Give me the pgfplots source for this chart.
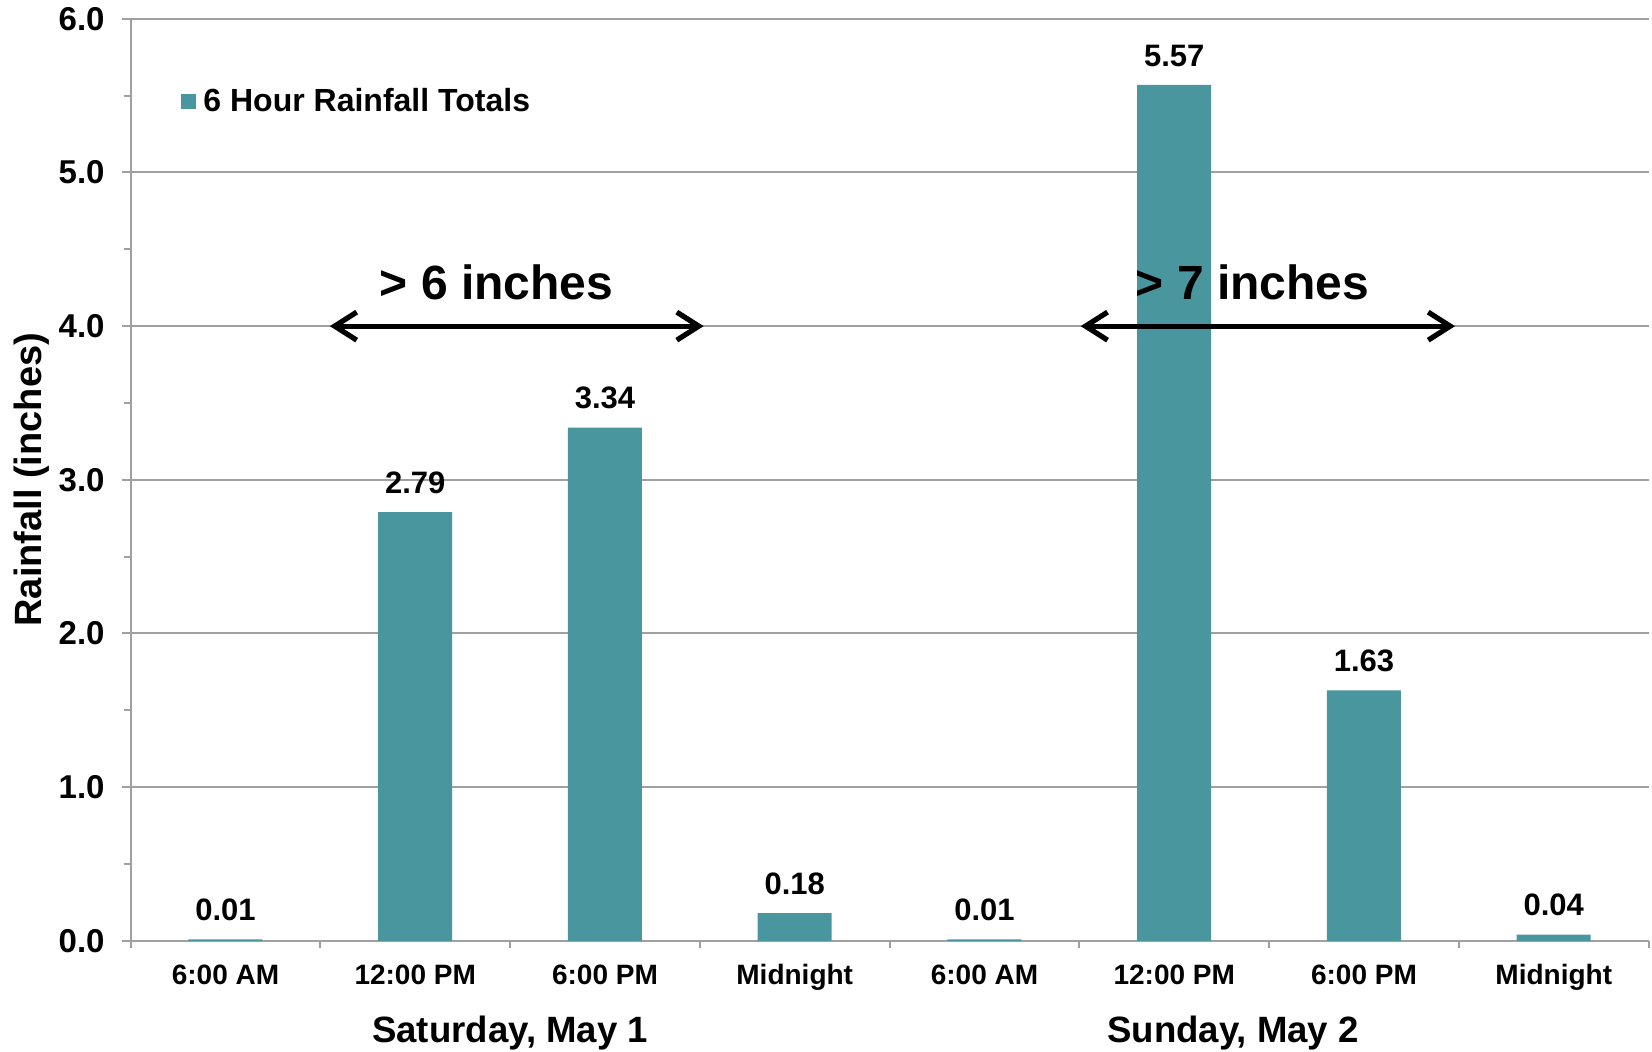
\documentclass[border=0pt]{standalone}
\usepackage{fontspec}
\setmainfont{Liberation Sans}
\usepackage{pgfplots}
\pgfplotsset{compat=1.18}
\usetikzlibrary{arrows.meta}
\definecolor{barcol}{HTML}{4A969E}
\definecolor{gridc}{HTML}{A0A0A0}
\begin{document}
\begin{tikzpicture}
\begin{axis}[
  at={(65.3pt,55.1pt)}, anchor=south west,
  scale only axis, width=759pt, height=461pt,
  xmin=0, xmax=8, ymin=0, ymax=6,
  clip=false,
  axis x line*=bottom, axis y line*=left,
  axis line style={-, draw=gridc, line width=1pt},
  ymajorgrids, grid style={draw=gridc, line width=1pt},
  ytick={0,1,...,6}, minor ytick={0.5,1.5,...,5.5},
  tick align=outside, major tick length=4.5pt, minor tick length=3.5pt,
  tick style={draw=gridc, line width=1pt},
  /pgf/number format/assume math mode=true,
  yticklabel style={font=\fontsize{16.5}{19}\selectfont\bfseries, xshift=-5pt,
    /pgf/number format/fixed, /pgf/number format/fixed zerofill,
    /pgf/number format/precision=1},
  xtick={0.5,1.5,2.5,3.5,4.5,5.5,6.5,7.5},
  xticklabels={6:00 AM,12:00 PM,6:00 PM,Midnight,6:00 AM,12:00 PM,6:00 PM,Midnight},
  major x tick style={draw=none},
  minor xtick={0,1,...,8},
  xticklabel style={font=\fontsize{14}{16}\selectfont\bfseries, anchor=base, yshift=-17.4pt},
  ylabel={Rainfall (inches)},
  ylabel style={font=\fontsize{19}{22}\selectfont\bfseries, at={(axis description cs:-0.0652,0.5)}, anchor=center},
  ybar, bar width=0.39,
  legend style={at={([yshift=-1.5pt]axis cs:0.266,5.48)}, anchor=west, draw=none, fill=none,
    font=\fontsize{16}{19}\selectfont\bfseries, inner sep=0pt},
]
\addplot[fill=barcol, draw=none,
  legend image code/.code={\fill[barcol] (0pt,-3.75pt) rectangle (7.5pt,3.75pt);},
  nodes near coords={\pgfmathprintnumber[fixed,fixed zerofill,precision=2]{\pgfplotspointmeta}},
  nodes near coords style={font=\fontsize{15.5}{18}\selectfont\bfseries, anchor=south, inner sep=0pt, yshift=9pt, black}]
  coordinates {(0.5,0.01) (1.5,2.79) (2.5,3.34) (3.5,0.18) (4.5,0.01) (5.5,5.57) (6.5,1.63) (7.5,0.04)};
\addlegendentry{\hspace{1.5pt}6 Hour Rainfall Totals}

\draw[black, line width=2.6pt, {Straight Barb[length=11pt,width=14pt]}-{Straight Barb[length=11pt,width=14pt]}] (axis cs:1.05,4) -- (axis cs:3.02,4);
\draw[black, line width=2.6pt, {Straight Barb[length=11pt,width=14pt]}-{Straight Barb[length=11pt,width=14pt]}] (axis cs:5.007,4) -- (axis cs:6.98,4);
\node[font=\fontsize{24}{28}\selectfont\bfseries] at (axis cs:1.928,4.288) {> 6 inches};
\node[font=\fontsize{24}{28}\selectfont\bfseries] at (axis cs:5.912,4.288) {> 7 inches};
\node[font=\fontsize{18.3}{21}\selectfont\bfseries, anchor=base] at ([yshift=-50.8pt]axis cs:2,0) {Saturday, May 1};
\node[font=\fontsize{18.3}{21}\selectfont\bfseries, anchor=base] at ([yshift=-50.8pt]axis cs:5.81,0) {Sunday, May 2};
\end{axis}
\pgfresetboundingbox
\path[use as bounding box] (0,0) rectangle (826pt,525.5pt);
\end{tikzpicture}
\end{document}
